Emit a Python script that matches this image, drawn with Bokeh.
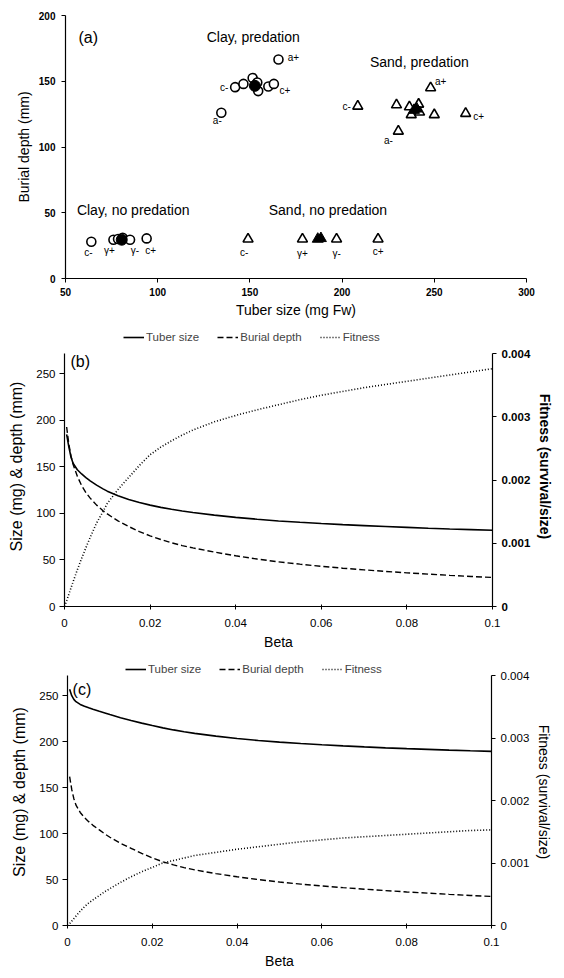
from bokeh.plotting import figure
from bokeh.layouts import column
from bokeh.models import (Range1d, LinearAxis, Legend, LegendItem, Label,
                          ColumnDataSource, FixedTicker)
from bokeh.core.properties import value
from bokeh.embed import file_html
from bokeh.resources import INLINE

FONT = "Liberation Sans"

# ---------------- Panel (a) data ----------------
clay_nopred_x = [64, 76, 78.5, 81, 85, 94]
clay_nopred_y = [28, 29.5, 30, 31, 29.5, 30.5]
clay_nopred_lab = ["c-", "γ+", "", "", "γ-", "c+"]
clay_nopred_mean = ([80.5], [29.5])

clay_pred_x = [165.5, 142, 146.5, 151.5, 154, 154.5, 160, 163, 134.5]
clay_pred_y = [166.5, 145.5, 148, 152.5, 149, 142.5, 146, 148, 126]
clay_pred_lab = ["a+", "c-", "", "", "", "", "", "c+", "a-"]
clay_pred_mean = ([152.7], [146.5])

sand_nopred_x = [149, 178.5, 197, 219.5]
sand_nopred_y = [30, 30, 30, 30]
sand_nopred_lab = ["c-", "γ+", "γ-", "c+"]
sand_nopred_mean = ([186.8, 188.5], [30, 30.5])

sand_pred_x = [248, 208.5, 229.5, 236.5, 241.5, 237.5, 242, 250, 267, 230.5]
sand_pred_y = [145, 131, 132, 130.5, 132.5, 124.5, 126.5, 124.5, 125.5, 112]
sand_pred_lab = ["a+", "c-", "", "", "", "", "", "", "c+", "a-"]
sand_pred_mean = ([239, 240.5], [128, 129])

group_text = ["Clay, predation", "Sand, predation", "Clay, no predation", "Sand, no predation"]
group_x = [151.8, 241.9, 86.7, 192.3]
group_y = [183.5, 164.5, 52.2, 52.2]

a_xticks = [50, 100, 150, 200, 250, 300]
a_yticks = [0, 50, 100, 150, 200]

# ---------------- Panels (b), (c) data ----------------
beta_sd = [0.0005, 0.001, 0.0015, 0.002, 0.003, 0.004, 0.005, 0.006, 0.0075, 0.009,
           0.01, 0.0125, 0.015, 0.0175, 0.02, 0.0225, 0.025, 0.0275, 0.03, 0.035,
           0.04, 0.045, 0.05, 0.055, 0.06, 0.065, 0.07, 0.075, 0.08, 0.085,
           0.09, 0.095, 0.1]
size_b = [185, 172, 161, 154, 147, 142.5, 138.5, 135, 130.5, 126.5,
          124, 119, 115, 111.8, 109, 106.6, 104.5, 102.6, 101, 98.2,
          95.8, 93.8, 92, 90.5, 89.2, 88, 87, 86, 85.1, 84.2,
          83.4, 82.7, 82]
depth_b = [193, 175, 162, 153, 140, 130, 122.5, 116.5, 109, 103,
           99.5, 92, 86, 80.5, 76, 72, 68.5, 65.5, 63, 58.5,
           54.5, 51, 48, 45.5, 43.2, 41.2, 39.4, 37.7, 36.2, 34.8,
           33.5, 32.3, 31.2]
beta_fit = [0] + beta_sd
fit_b = [0, 0.00009, 0.00019, 0.00029, 0.00039, 0.00058, 0.00076, 0.00093, 0.00109, 0.00132, 0.0015,
         0.00163, 0.00185, 0.00204, 0.00223, 0.0024, 0.00252, 0.00262, 0.00271, 0.00279, 0.00292,
         0.00302, 0.00311, 0.00319, 0.00327, 0.00334, 0.0034, 0.00346, 0.00351, 0.00356, 0.00361,
         0.00366, 0.00371, 0.00376]

size_c = [257, 250, 246, 243.5, 240.5, 238.5, 236.8, 235.2, 233, 231,
          229.5, 226, 223, 220.2, 217.5, 215, 212.8, 210.8, 209, 206,
          203.5, 201.3, 199.5, 198, 196.6, 195.4, 194.3, 193.3, 192.4, 191.6,
          190.8, 190.1, 189.5]
depth_c = [162, 148, 138, 131, 123, 117.5, 113, 109, 104, 99,
           96, 89.5, 84, 78.5, 73.5, 69.3, 66, 63, 60.5, 56.5,
           53, 50, 47.3, 45, 43, 41.2, 39.5, 38, 36.5, 35.2,
           33.9, 32.7, 31.6]
fit_c = [0, 0.00003, 0.00007, 0.00011, 0.00015, 0.00023, 0.0003, 0.00036, 0.00041, 0.00048, 0.00055,
         0.00059, 0.00069, 0.00078, 0.00086, 0.00093, 0.001, 0.00104, 0.00108, 0.00112, 0.00117,
         0.00122, 0.00126, 0.0013, 0.00134, 0.00137, 0.0014, 0.00142, 0.00144, 0.00146, 0.00148,
         0.0015, 0.00152, 0.00153]

beta_ticks = [0, 0.02, 0.04, 0.06, 0.08, 0.1]
beta_tick_text = ["0", "0.02", "0.04", "0.06", "0.08", "0.1"]
left_ticks = [0, 50, 100, 150, 200, 250]
left_max = 272
fit_ticks = [0, 0.001, 0.002, 0.003, 0.004]
fit_tick_text = ["0", "0.001", "0.002", "0.003", "0.004"]
fit_max = 0.004
arrow_beta = [0.0018, 0.0023]

# label offsets (screen px) -- style only
OFFS = {
    "clay_pred": {"a+": (15, -2), "c-": (-11, 0), "c+": (11, 7), "a-": (-4, 8)},
    "clay_nopred": {"c-": (-3, 11), "γ+": (-4, 11), "γ-": (5, 11), "c+": (4, 12)},
    "sand_nopred": {"c-": (-4, 13), "γ+": (0, 14), "γ-": (0, 14), "c+": (0, 12)},
    "sand_pred": {"a+": (10, -6), "c-": (-11, 0), "c+": (13, 3), "a-": (-10, 9)},
}


def style_axis(ax, size="10px", bold=False, label_size="14px", label_bold=False):
    ax.axis_line_color = "black"
    ax.axis_line_width = 1.2
    ax.major_tick_line_color = "black"
    ax.minor_tick_line_color = None
    ax.major_label_text_font = FONT
    ax.major_label_text_font_size = size
    ax.major_label_text_font_style = "bold" if bold else "normal"
    ax.major_label_text_color = "black"
    ax.axis_label_text_font = FONT
    ax.axis_label_text_font_size = label_size
    ax.axis_label_text_font_style = "bold" if label_bold else "normal"
    ax.axis_label_text_color = "black"


# ================= Panel (a) =================
pa = figure(width=560, height=320, x_range=Range1d(50, 300), y_range=Range1d(0, 200),
            output_backend="svg", toolbar_location=None, frame_align=False,
            min_border_left=65, min_border_right=34, min_border_top=15, min_border_bottom=42)
pa.outline_line_color = None
pa.grid.visible = False
pa.xaxis.ticker = FixedTicker(ticks=a_xticks)
pa.yaxis.ticker = FixedTicker(ticks=a_yticks)
pa.xaxis.axis_label = "Tuber size (mg Fw)"
pa.yaxis.axis_label = "Burial depth (mm)"
for ax in (pa.xaxis[0], pa.yaxis[0]):
    style_axis(ax, size="10px", bold=True, label_size="14px")
    ax.major_tick_out = 4
    ax.major_tick_in = 0
pa.xaxis.major_label_standoff = 5
pa.xaxis.axis_label_standoff = 3
pa.yaxis.major_label_standoff = 6
pa.yaxis.axis_label_standoff = 4


def add_group(p, xs, ys, labs, key, marker):
    p.scatter(xs, ys, marker=marker, size=9 if marker == "circle" else 10,
              fill_color="white", line_color="black", line_width=1.6)
    tx, ty, tt, dx, dy = [], [], [], [], []
    for x, y, l in zip(xs, ys, labs):
        if l:
            tx.append(x); ty.append(y); tt.append(l)
            dx.append(OFFS[key][l][0]); dy.append(OFFS[key][l][1])
    src = ColumnDataSource(dict(x=tx, y=ty, t=tt, dx=dx, dy=dy))
    p.text("x", "y", text="t", x_offset="dx", y_offset="dy", source=src,
           text_font=value(FONT), text_font_size="10px", text_align="center",
           text_baseline="middle", text_color="black")


add_group(pa, clay_nopred_x, clay_nopred_y, clay_nopred_lab, "clay_nopred", "circle")
add_group(pa, clay_pred_x, clay_pred_y, clay_pred_lab, "clay_pred", "circle")
add_group(pa, sand_nopred_x, sand_nopred_y, sand_nopred_lab, "sand_nopred", "triangle")
add_group(pa, sand_pred_x, sand_pred_y, sand_pred_lab, "sand_pred", "triangle")
pa.scatter(*clay_nopred_mean, marker="circle", size=11, fill_color="black", line_color="black")
pa.scatter(*clay_pred_mean, marker="circle", size=11, fill_color="black", line_color="black")
pa.scatter(*sand_nopred_mean, marker="triangle", size=11, fill_color="black", line_color="black")
pa.scatter(*sand_pred_mean, marker="triangle", size=11, fill_color="black", line_color="black")

pa.text(group_x, group_y, text=group_text, text_font=value(FONT), text_font_size="14px",
        text_align="center", text_baseline="middle", text_color="black")
pa.add_layout(Label(x=57, y=183, text="(a)", text_font=FONT, text_font_size="16px",
                    text_baseline="middle", text_align="left", text_color="black"))


# ================= Panels (b) and (c) =================
def make_panel(height, borders, headroom, size, depth, fit, tag, right_bold, legend_xy,
               tag_xy, arrow_x, arrow_standoff):
    top = left_max * headroom
    p = figure(width=560, height=height, x_range=Range1d(0, 0.1), y_range=Range1d(0, top),
               output_backend="svg", toolbar_location=None, frame_align=False,
               min_border_left=borders[0], min_border_right=borders[1],
               min_border_top=borders[2], min_border_bottom=borders[3])
    p.outline_line_color = None
    p.grid.visible = False
    p.extra_y_ranges = {"fit": Range1d(0, fit_max * headroom)}
    p.xaxis.ticker = FixedTicker(ticks=beta_ticks)
    p.xaxis.major_label_overrides = dict(zip(beta_ticks, beta_tick_text))
    p.yaxis.ticker = FixedTicker(ticks=left_ticks)
    p.yaxis.bounds = (0, left_max)
    p.xaxis.axis_label = "Beta"
    p.yaxis.axis_label = "Size (mg) & depth (mm)"
    style_axis(p.xaxis[0], size="11.5px", label_size="14px")
    style_axis(p.yaxis[0], size="11.5px", label_size="16px")
    p.xaxis.major_tick_out = 3
    p.xaxis.major_tick_in = 2
    p.xaxis.major_label_standoff = 9
    p.xaxis.axis_label_standoff = 4
    p.yaxis.major_tick_out = 5
    p.yaxis.major_tick_in = 0
    p.yaxis.major_label_standoff = 4
    p.yaxis.axis_label_standoff = 8
    ra = LinearAxis(y_range_name="fit", ticker=FixedTicker(ticks=fit_ticks),
                    axis_label="Fitness (survival/size)", bounds=(0, fit_max))
    ra.major_label_overrides = dict(zip(fit_ticks, fit_tick_text))
    style_axis(ra, size="11.5px", bold=right_bold, label_size="14px", label_bold=right_bold)
    ra.major_tick_out = 4
    ra.major_tick_in = 0
    ra.major_label_standoff = 5
    ra.axis_label_standoff = 4
    p.add_layout(ra, "right")

    # arrow marker under the x axis, drawn as a tick label of an extra axis fixed at y=0
    aa = LinearAxis(fixed_location=0, ticker=FixedTicker(ticks=[arrow_x]))
    aa.major_label_overrides = {arrow_x: "↑"}
    aa.axis_line_color = None
    aa.major_tick_line_color = None
    aa.minor_tick_line_color = None
    aa.major_tick_out = 0
    aa.major_tick_in = 0
    aa.major_label_standoff = arrow_standoff
    aa.major_label_text_font = "DejaVu Sans"
    aa.major_label_text_font_size = "24px"
    aa.major_label_text_color = "black"
    p.add_layout(aa, "below")

    r1 = p.line(beta_sd, size, line_color="black", line_width=1.6)
    r2 = p.line(beta_sd, depth, line_color="black", line_width=1.4, line_dash="6 3")
    r3 = p.line(beta_fit, fit, y_range_name="fit", line_color="black", line_width=1.6,
                line_dash="1 2")
    leg = Legend(items=[LegendItem(label="Tuber size", renderers=[r1]),
                        LegendItem(label="Burial depth", renderers=[r2]),
                        LegendItem(label="Fitness", renderers=[r3])],
                 orientation="horizontal", location=legend_xy,
                 label_text_font=FONT, label_text_font_size="11.5px",
                 glyph_width=21, glyph_height=12, label_standoff=2, spacing=18,
                 padding=0, margin=0, border_line_alpha=0, background_fill_alpha=0,
                 label_height=12)
    p.add_layout(leg, "center")
    p.add_layout(Label(x=tag_xy[0], y=tag_xy[1], text=tag, text_font=FONT,
                       text_font_size="16px", text_baseline="middle", text_align="left",
                       text_color="black"))
    return p


# (b): frame 326..606 px, axis covers 353..606
pb = make_panel(335, (64, 68, 6, 49), 280 / 253, size_b, depth_b, fit_b, "(b)", True,
                (59, 263), (0.0014, 263), arrow_beta[0], 3)
# (c): frame 658..925 px, axis covers 675..925
pc = make_panel(323, (67, 69, 3, 53), 267 / 250, size_c, depth_c, fit_c, "(c)", False,
                (58, 250), (0.0012, 257), arrow_beta[1], 13)

layout = column(pa, pb, pc, spacing=0)
open("out.html", "w").write(file_html(layout, INLINE))
